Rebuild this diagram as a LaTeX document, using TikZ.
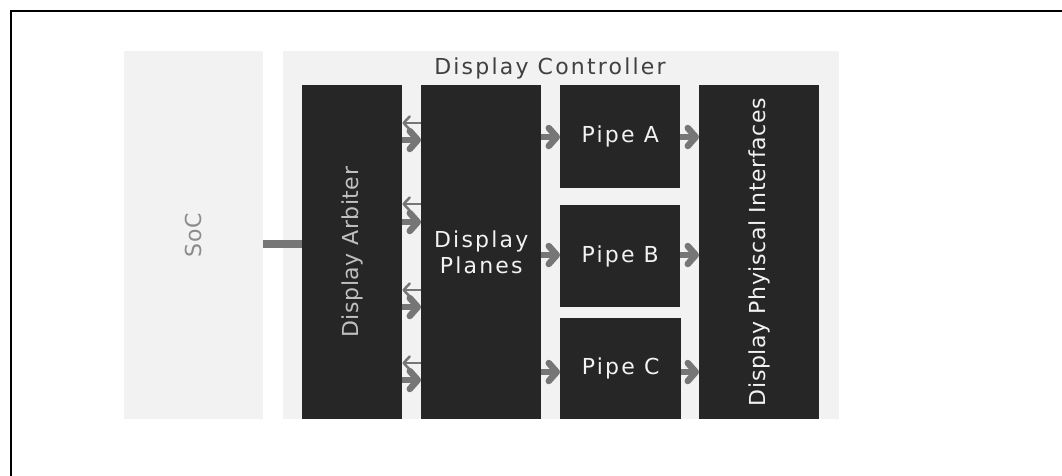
\documentclass[tikz,border=0pt]{standalone}
\usepackage{fontspec}
\usepackage{graphicx}
\setmainfont{DejaVu Sans}[LetterSpace=10]
\newfontfamily\tightfont{DejaVu Sans}[LetterSpace=2.5]
\usetikzlibrary{arrows.meta}
\definecolor{boxdark}{HTML}{262626}
\definecolor{panel}{HTML}{F2F2F2}
\definecolor{link}{HTML}{767676}
\definecolor{soctext}{HTML}{8C8C8C}
\definecolor{arbtext}{HTML}{BFBFBF}
\definecolor{titletext}{HTML}{404040}
\newcommand{\sideways}[1]{\rotatebox{90}{\tightfont #1}}
\tikzset{%
  panelbox/.style={%
    rectangle,%
    fill=panel,%
    inner sep=0pt,%
    anchor=north west},
  block/.style={%
    rectangle,%
    fill=boxdark,%
    text=panel,%
    inner sep=0pt,%
    align=center,%
    anchor=north west},
  fwd/.style={%
    draw=link,%
    line width=6.5pt,%
    -{Straight Barb[round,length=8pt,width=18pt]}},
  back/.style={%
    draw=link,%
    line width=2.5pt,%
    -{Straight Barb[round,length=6pt,width=13pt]}}
}

\begin{document}
\begin{tikzpicture}[x=1pt,y=-1pt,every
        node/.style={font=\fontsize{22}{26}\selectfont}]
        \useasboundingbox (0,0) rectangle (1062,475);
        \draw[line width=2pt] (11,476) |- (1063,11);
        % background panels
        \node [panelbox,minimum width=139pt,minimum height=368pt,text=soctext]
          (soc) at (124,51) {\sideways{SoC}};
        \node [panelbox,minimum width=556pt,minimum height=368pt] (dc) at (283,51) {};
        \node [text=titletext] (dctitle) at (550,68) {Display Controller};
        % blocks
        \node [block,minimum width=100pt,minimum height=334pt,text=arbtext]
          (arb) at (302,85) {\sideways{Display Arbiter}};
        \node [block,minimum width=120pt,minimum height=334pt]
          (pln) at (421,85) {Display\\Planes};
        \node [block,minimum width=120pt,minimum height=103pt]
          (pa) at (560,85) {Pipe A};
        \node [block,minimum width=120pt,minimum height=102pt]
          (pb) at (560,205) {Pipe B};
        \node [block,minimum width=121pt,minimum height=101pt]
          (pc) at (560,318) {Pipe C};
        \node [block,minimum width=120pt,minimum height=334pt]
          (phy) at (699,85) {\sideways{Display Phyiscal Interfaces}};
        % links
        \draw [draw=link,line width=8pt] (soc.east |- 0,244) -- (arb.west |- 0,244);
        \foreach \up/\down in {123/140,204/222,290/307,363/380} {
          \draw [back] (pln.west |- 0,\up) -- (arb.east |- 0,\up);
          \draw [fwd] (arb.east |- 0,\down) -- (pln.west |- 0,\down);
        }
        \foreach \p/\y in {pa/137,pb/255,pc/372} {
          \draw [fwd] (pln.east |- 0,\y) -- (\p.west |- 0,\y);
          \draw [fwd] (\p.east |- 0,\y) -- (phy.west |- 0,\y);
        }
      \end{tikzpicture}
\end{document}
